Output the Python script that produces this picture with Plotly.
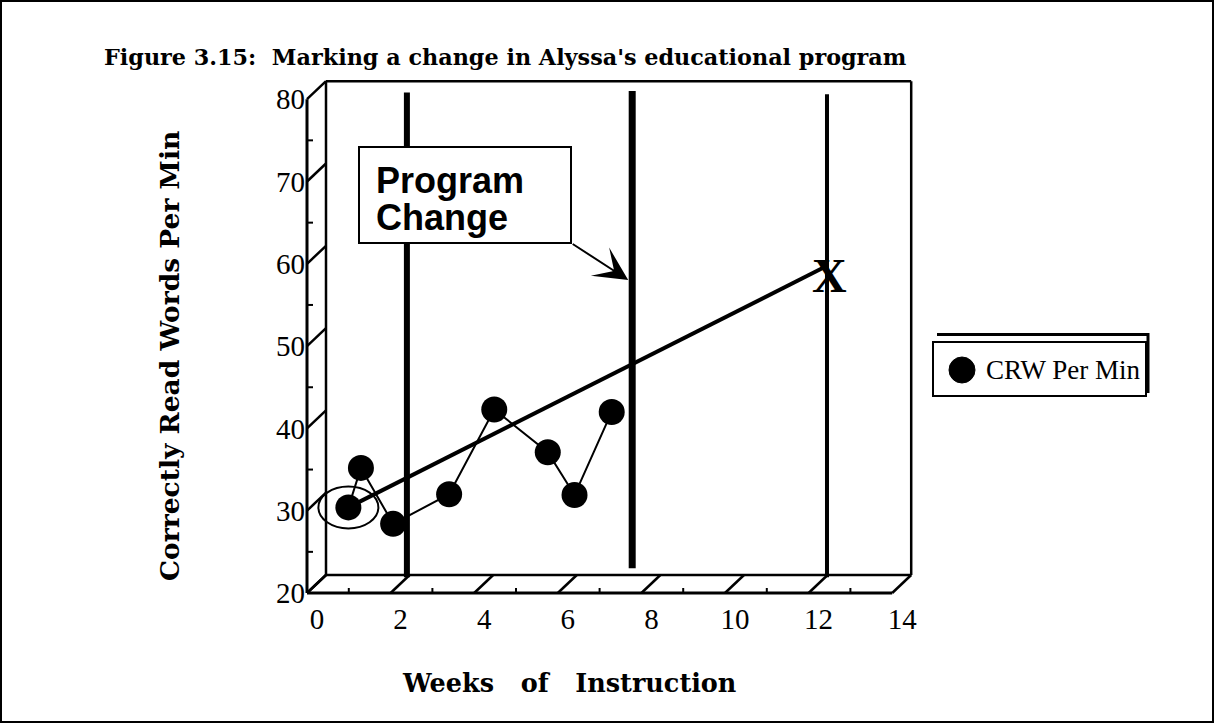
import plotly.graph_objects as go

# ---------------- data ----------------
weeks = [0.99, 1.29, 2.06, 3.40, 4.48, 5.76, 6.40, 7.29]
crw_per_min = [30.4, 35.2, 28.4, 32.0, 42.3, 37.1, 31.9, 42.0]

aim_weeks = [0.99, 12.42]          # aim line: start of baseline -> goal
aim_crw = [30.4, 59.7]

phase_weeks = [2.39, 7.78, 12.44]  # vertical phase-change lines
phase_top = [80.8, 81.0, 80.6]
phase_bottom = [21.9, 23.0, 21.9]

x_tick_values = [0, 2, 4, 6, 8, 10, 12, 14]
x_tick_labels = ["0", "2", "4", "6", "8", "10", "12", "14"]
x_minor_values = [1, 3, 5, 7, 9, 11, 13]
y_tick_values = [20, 30, 40, 50, 60, 70, 80]
y_tick_labels = ["20", "30", "40", "50", "60", "70", "80"]
y_minor_values = [25, 35, 45, 55, 65, 75]

series_name = "CRW Per Min"

# ---------------- geometry ----------------
W_FIG, H_FIG = 1214, 723
X0_PX, UX = 307.0, 41.8     # pixel of week 0 and px per week (front plane)
Y0_PX, UY = 593.0, 8.23     # pixel of 20 CRW and px per CRW (front plane)
ML, MR, MT, MB = 271, 280, 66, 117
PW = W_FIG - ML - MR
PH = H_FIG - MT - MB

x_range = [(ML - X0_PX) / UX, (W_FIG - MR - X0_PX) / UX]
y_range = [20 + (Y0_PX - (H_FIG - MB)) / UY, 20 + (Y0_PX - MT) / UY]

DX = 19 / UX   # depth offset of the back plane
DY = 18 / UY

XF0, XF1 = x_tick_values[0], x_tick_values[-1]
YF0, YF1 = y_tick_values[0], y_tick_values[-1]


def pxx(p):
    return (p - ML) / PW


def pxy(p):
    return (H_FIG - MB - p) / PH


SERIF = "Liberation Serif, Times New Roman, serif"
BOOK = "DejaVu Serif, serif"
SANS = "Liberation Sans, Arial, sans-serif"

fig = go.Figure()

# phase-change lines
for xw, y0, y1, w in zip(phase_weeks, phase_bottom, phase_top, [6, 7, 4]):
    fig.add_trace(go.Scatter(x=[xw, xw], y=[y0, y1], mode="lines",
                             line=dict(color="black", width=w),
                             showlegend=False, hoverinfo="skip"))

# aim line
fig.add_trace(go.Scatter(x=aim_weeks, y=aim_crw, mode="lines",
                         line=dict(color="black", width=4),
                         showlegend=False, hoverinfo="skip"))

# data series
fig.add_trace(go.Scatter(x=weeks, y=crw_per_min, mode="lines+markers",
                         name=series_name,
                         line=dict(color="black", width=2),
                         marker=dict(color="black", size=26),
                         showlegend=False))

shapes = []


def dline(x0, y0, x1, y1, w):
    shapes.append(dict(type="line", xref="x", yref="y", x0=x0, y0=y0,
                       x1=x1, y1=y1, line=dict(color="black", width=w),
                       layer="below"))


# 3-D frame: back plane
dline(XF0 + DX, YF0 + DY, XF1 + DX, YF0 + DY, 2.5)
dline(XF0 + DX, YF0 + DY, XF0 + DX, YF1 + DY, 2.5)
dline(XF0 + DX, YF1 + DY, XF1 + DX, YF1 + DY, 2.5)
dline(XF1 + DX, YF0 + DY, XF1 + DX, YF1 + DY, 2.5)
# front axes
dline(XF0, YF0, XF1, YF0, 3)
dline(XF0, YF0, XF0, YF1, 3)
# depth ticks
for xv in x_tick_values:
    dline(xv, YF0, xv + DX, YF0 + DY, 2.5)
for yv in y_tick_values:
    dline(XF0, yv, XF0 + DX, yv + DY, 2.5)
for xv in x_minor_values:
    dline(xv, YF0, xv, YF0 + 5 / UY, 2)
for yv in y_minor_values:
    dline(XF0, yv, XF0 + 6 / UX, yv, 2)

# circle marking the first point
shapes.append(dict(type="circle", xref="x", yref="y",
                   x0=weeks[0] - 30 / UX, x1=weeks[0] + 30 / UX,
                   y0=crw_per_min[0] - 21 / UY, y1=crw_per_min[0] + 21 / UY,
                   line=dict(color="black", width=2)))

# "Program Change" box
shapes.append(dict(type="rect", xref="paper", yref="paper",
                   x0=pxx(359), x1=pxx(571), y0=pxy(243), y1=pxy(147),
                   fillcolor="white", line=dict(color="black", width=2)))

# legend box with shadow
shapes.append(dict(type="line", xref="paper", yref="paper",
                   x0=pxx(937), x1=pxx(1149), y0=pxy(334.5), y1=pxy(334.5),
                   line=dict(color="black", width=3)))
shapes.append(dict(type="line", xref="paper", yref="paper",
                   x0=pxx(1148), x1=pxx(1148), y0=pxy(333), y1=pxy(393),
                   line=dict(color="black", width=3)))
shapes.append(dict(type="rect", xref="paper", yref="paper",
                   x0=pxx(933), x1=pxx(1146), y0=pxy(396), y1=pxy(342),
                   fillcolor="white", line=dict(color="black", width=2)))
shapes.append(dict(type="circle", xref="paper", yref="paper",
                   x0=pxx(949), x1=pxx(975), y0=pxy(383), y1=pxy(357),
                   fillcolor="black", line=dict(color="black", width=1)))

# outer border
shapes.append(dict(type="rect", xref="paper", yref="paper",
                   x0=pxx(1), x1=pxx(W_FIG - 1), y0=pxy(H_FIG - 1), y1=pxy(1),
                   line=dict(color="black", width=2)))

annotations = [
    dict(text="Correctly Read Words Per Min", xref="paper", yref="paper",
         x=pxx(170), y=pxy(356), textangle=-90, showarrow=False,
         xanchor="center", yanchor="middle",
         font=dict(family=BOOK, size=26.5, color="black", weight="bold")),
    dict(text="Weeks&nbsp;&nbsp;&nbsp;of&nbsp;&nbsp;&nbsp;Instruction",
         xref="paper", yref="paper", x=pxx(569), y=pxy(683), showarrow=False,
         xanchor="center", yanchor="middle",
         font=dict(family=BOOK, size=25.5, color="black", weight="bold")),
    dict(text="Program", xref="paper", yref="paper", x=pxx(374), y=pxy(180),
         showarrow=False, xanchor="left", yanchor="middle",
         font=dict(family=SANS, size=36, color="black", weight="bold")),
    dict(text="Change", xref="paper", yref="paper", x=pxx(374), y=pxy(218),
         showarrow=False, xanchor="left", yanchor="middle",
         font=dict(family=SANS, size=36, color="black", weight="bold")),
    dict(text="", x=phase_weeks[1] - 4 / UX, y=20 + (Y0_PX - 280) / UY,
         xref="x", yref="y", showarrow=True, ax=-57, ay=-37,
         arrowhead=3, arrowsize=2.8, arrowwidth=2, arrowcolor="black"),
    dict(text="X", x=aim_weeks[1], y=aim_crw[1], xref="x", yref="y",
         showarrow=False, xanchor="center", yanchor="middle", xshift=3,
         yshift=-9,
         font=dict(family=SERIF, size=48, color="black", weight="bold")),
    dict(text=series_name, xref="paper", yref="paper", x=pxx(984), y=pxy(370),
         showarrow=False, xanchor="left", yanchor="middle",
         font=dict(family=SERIF, size=27, color="black")),
]

fig.update_layout(
    width=W_FIG, height=H_FIG,
    margin=dict(l=ML, r=MR, t=MT, b=MB, autoexpand=False),
    paper_bgcolor="white", plot_bgcolor="white",
    showlegend=False,
    title=dict(text="Figure 3.15:  Marking a change in Alyssa's educational program",
               xref="container", yref="container", x=104 / W_FIG,
               y=1 - 57 / H_FIG, xanchor="left", yanchor="middle",
               font=dict(family=BOOK, size=22.3, color="black", weight="bold")),
    xaxis=dict(range=x_range, showgrid=False, zeroline=False, showline=False,
               tickmode="array", tickvals=x_tick_values, ticktext=x_tick_labels,
               ticks="", ticklabelshift=10, anchor="free", position=pxy(599),
               tickfont=dict(family=SERIF, size=29, color="black")),
    yaxis=dict(range=y_range, showgrid=False, zeroline=False, showline=False,
               tickmode="array", tickvals=y_tick_values, ticktext=y_tick_labels,
               ticks="", anchor="free", position=pxx(305),
               tickfont=dict(family=SERIF, size=29, color="black")),
    shapes=shapes,
    annotations=annotations,
)

fig.write_html("out.html",
               config={"displayModeBar": False, "staticPlot": True},
               post_script="document.body.style.margin='0';"
                           "document.body.style.overflow='hidden';")
